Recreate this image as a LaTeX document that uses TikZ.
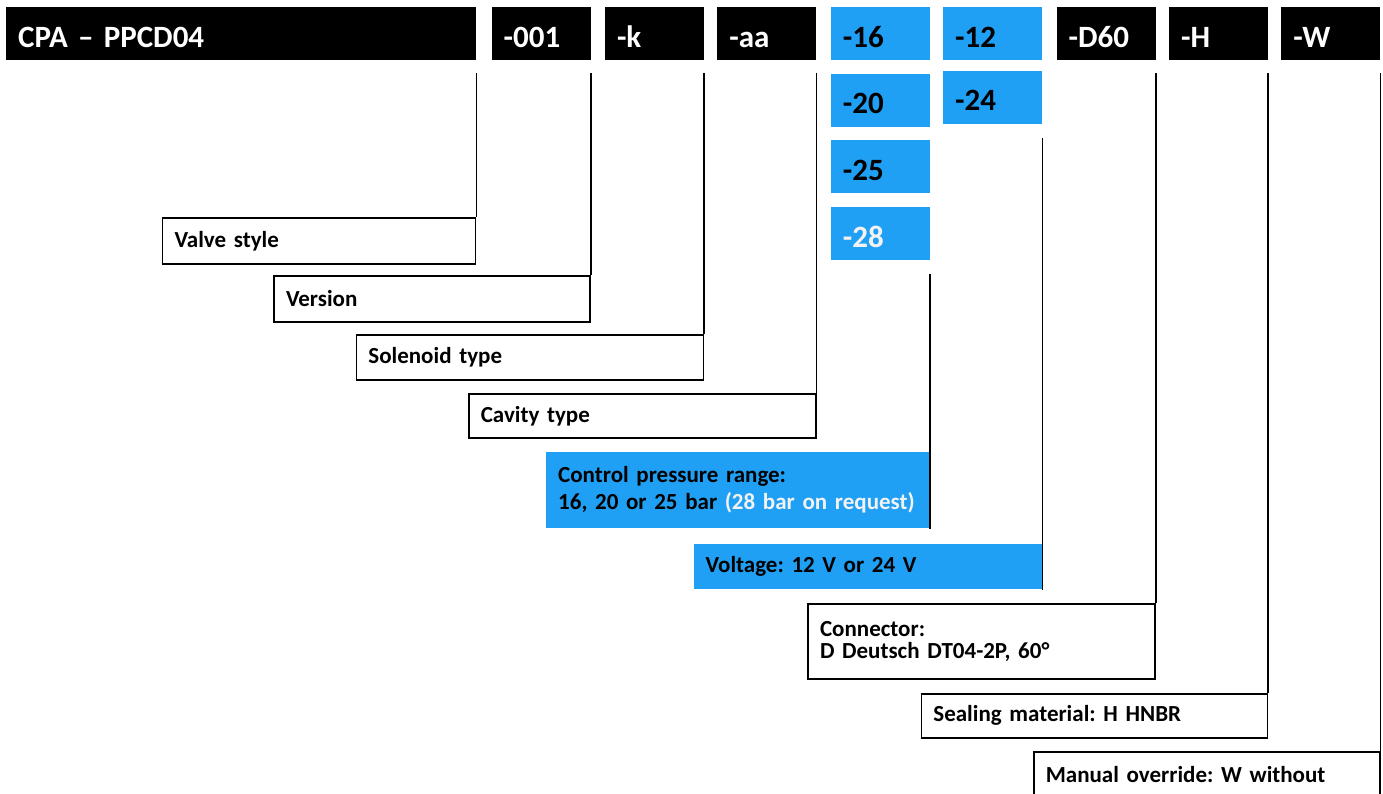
\documentclass[tikz,border=0pt]{standalone}
\usepackage{fontspec}
\setmainfont{Carlito}
\usetikzlibrary{positioning}
\definecolor{kodkek}{RGB}{31,160,245}
\definecolor{halvany}{RGB}{242,242,242}
\tikzset{
  kod/.style={fill=black,text=white,font=\fontsize{31}{37}\selectfont\bfseries,text width=75pt,
              inner xsep=12pt,inner ysep=0pt,minimum height=53pt,align=left,text height=27pt,text depth=0pt},
  kek/.style={kod,fill=kodkek,text=black},
  leiras/.style={draw,line width=1.6pt,font=\fontsize{23}{27}\selectfont\bfseries,inner xsep=12pt,
                 inner ysep=0pt,align=left,anchor=north east},
  kekleiras/.style={leiras,draw=none,fill=kodkek},
  vonal/.style={line width=1.6pt},
}
\frenchspacing
\begin{document}
\begin{tikzpicture}[x=1pt,y=-1pt]
  \useasboundingbox (0,0) rectangle (1383,793);
  % kodsor
  \node[kod,text width=446pt,anchor=north west] (cpa) at (6,7) {CPA -- PPCD04};
  \node[kod,right=15pt of cpa] (n001) {-001};
  \node[kod,right=14pt of n001] (nk) {-k};
  \node[kod,right=13pt of nk] (naa) {-aa};
  \node[kek,right=14pt of naa] (n16) {-16};
  \node[kek,right=13pt of n16] (n12) {-12};
  \node[kod,right=14pt of n12] (nd60) {-D60};
  \node[kod,right=13pt of nd60] (nh) {-H};
  \node[kod,right=13pt of nh] (nw) {-W};
  \node[kek,below=13pt of n16] (n20) {-20};
  \node[kek,below=13pt of n20] (n25) {-25};
  \node[kek,below=14pt of n25,text=halvany] (n28) {-28};
  \node[kek,below=10pt of n12] (n24) {-24};
  % leirasok
  \node[leiras,text width=289pt,minimum height=46pt] (stilus) at (cpa.east |- 0,217) {Valve style};
  \node[leiras,text width=292pt,minimum height=46pt] (verzio) at (n001.east |- 0,275) {Version};
  \node[leiras,text width=323pt,minimum height=45pt] (magnes) at (nk.east |- 0,334) {Solenoid type};
  \node[leiras,text width=323pt,minimum height=44pt] (furat) at (naa.east |- 0,393) {Cavity type};
  \node[kekleiras,text width=359pt,minimum height=76pt] (nyomas) at (n16.east |- 0,451)
    {Control pressure range:\\16, 20 or 25 bar \textcolor{halvany}{(28 bar on request)}};
  \node[kekleiras,text width=324pt,minimum height=45pt] (fesz) at (n12.east |- 0,543) {Voltage: 12 V or 24 V};
  \node[leiras,text width=323pt,minimum height=75pt,font=\fontsize{23}{22}\selectfont\bfseries] (csatl)
    at (nd60.east |- 0,603) {Connector:\\D Deutsch DT04-2P, 60°};
  \node[leiras,text width=322pt,minimum height=44pt] (tomites) at (nh.east |- 0,693) {Sealing material: H HNBR};
  \node[leiras,text width=322pt,minimum height=46pt] (kezi) at (nw.east |- 0,751) {Manual override: W without};
  % vonalak
  \draw[vonal] ([yshift=-13pt]cpa.south east) -- (stilus.north east);
  \draw[vonal] ([yshift=-13pt]n001.south east) -- (verzio.north east);
  \draw[vonal] ([yshift=-13pt]nk.south east) -- (magnes.north east);
  \draw[vonal] ([yshift=-13pt]naa.south east) -- (furat.north east);
  \draw[vonal] ([yshift=-13pt]n28.south east) -- (nyomas.south east);
  \draw[vonal] ([yshift=-14pt]n24.south east) -- (fesz.south east);
  \draw[vonal] ([yshift=-13pt]nd60.south east) -- (csatl.north east);
  \draw[vonal] ([yshift=-13pt]nh.south east) -- (tomites.north east);
  \draw[vonal] ([yshift=-13pt]nw.south east) -- (kezi.north east);
\end{tikzpicture}
\end{document}
